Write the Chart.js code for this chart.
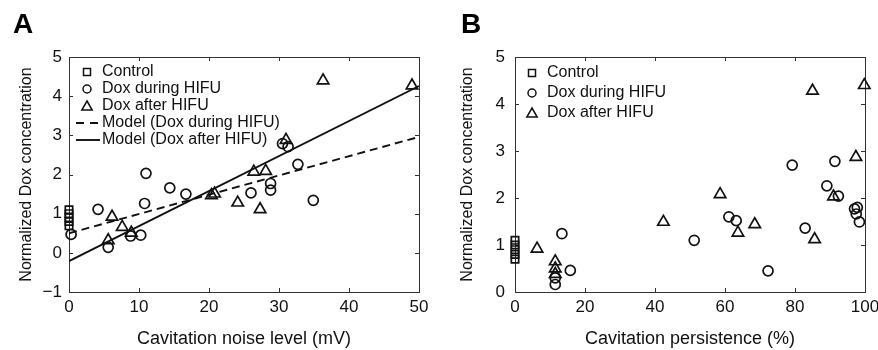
<!DOCTYPE html>
<html>
<head>
<meta charset="utf-8">
<script src="https://cdn.jsdelivr.net/npm/chart.js@4.4.1/dist/chart.umd.min.js"></script>
<style>
  html, body { margin: 0; padding: 0; background: #fff; }
  #wrap { position: relative; width: 878px; height: 350px; }
  canvas { position: absolute; top: 0; }
</style>
</head>
<body>
<div id="wrap">
  <canvas id="chartA" width="439" height="350" style="left:0"></canvas>
  <canvas id="chartB" width="439" height="350" style="left:439px"></canvas>
</div>
<script>
// ---- Panel A: cavitation noise level (mV) ----
const controlAX = [0, 0, 0, 0, 0];
const controlAY = [1.1, 1.0, 0.9, 0.8, 0.69];

const duringAX = [0.3, 4.15, 5.6, 8.8, 10.25, 10.8, 11.0, 14.4, 16.7, 26.0, 28.8, 28.8, 30.5, 31.3, 32.7, 34.9];
const duringAY = [0.47, 1.11, 0.14, 0.43, 0.45, 1.26, 2.03, 1.66, 1.5, 1.53, 1.77, 1.6, 2.79, 2.71, 2.26, 1.34];

const afterAX = [5.6, 6.15, 7.6, 8.9, 20.35, 20.8, 24.1, 26.4, 28.1, 27.3, 31.0, 36.3, 49.0];
const afterAY = [0.32, 0.92, 0.66, 0.51, 1.47, 1.51, 1.28, 2.07, 2.09, 1.11, 2.88, 4.4, 4.27];

const modelX = [0, 50];
const modelDuringY = [0.5, 2.96];
const modelAfterY = [-0.21, 4.26];

const aXTicks = [0, 10, 20, 30, 40, 50];
const aYTicks = [-1, 0, 1, 2, 3, 4, 5];

// ---- Panel B: cavitation persistence (%) ----
const controlBX = [0, 0, 0, 0, 0];
const controlBY = [1.1, 1.0, 0.9, 0.8, 0.7];

const duringBX = [11.5, 11.5, 13.4, 15.8, 51.2, 61.1, 63.2, 72.3, 79.2, 82.9, 89.1, 91.4, 92.4, 97.0, 97.8, 97.5, 98.4];
const duringBY = [0.3, 0.16, 1.24, 0.46, 1.1, 1.6, 1.52, 0.45, 2.7, 1.36, 2.26, 2.78, 2.04, 1.77, 1.8, 1.66, 1.49];

const afterBX = [6.3, 11.5, 11.5, 11.5, 42.4, 58.6, 63.7, 68.5, 85.0, 85.6, 91.0, 97.4, 99.8];
const afterBY = [0.92, 0.65, 0.5, 0.38, 1.49, 2.08, 1.26, 1.44, 4.28, 1.12, 2.03, 2.87, 4.4];

const bXTicks = [0, 20, 40, 60, 80, 100];
const bYTicks = [0, 1, 2, 3, 4, 5];

const FONT = '"Liberation Sans", Arial, Helvetica, sans-serif';
const INK = '#111';

const pts = (xs, ys) => xs.map((x, i) => ({ x: x, y: ys[i] }));
const fmt = v => String(v).replace('-', '\u2212');

function markerSet(label, xs, ys, style, radius) {
    return {
        label: label,
        data: pts(xs, ys),
        pointStyle: style,
        pointRadius: radius,
        pointBorderWidth: 1.7,
        pointBorderColor: INK,
        pointBackgroundColor: 'rgba(0,0,0,0)',
        borderColor: INK,
        showLine: false,
        clip: false
    };
}

function modelSet(label, xs, ys, dash) {
    return {
        label: label,
        data: pts(xs, ys),
        showLine: true,
        borderColor: INK,
        borderWidth: 1.9,
        borderDash: dash,
        pointRadius: 0,
        legendLine: true
    };
}

// box around the plot with inward ticks on all four sides
const framePlugin = {
    id: 'frame',
    beforeDatasetsDraw(chart) {
        const { ctx, chartArea: a, scales } = chart;
        const len = 4;
        ctx.save();
        ctx.strokeStyle = '#333';
        ctx.lineWidth = 1;
        ctx.strokeRect(a.left + 0.5, a.top + 0.5, a.right - a.left, a.bottom - a.top);
        ctx.beginPath();
        scales.x.ticks.forEach(t => {
            const px = Math.round(scales.x.getPixelForValue(t.value)) + 0.5;
            ctx.moveTo(px, a.bottom); ctx.lineTo(px, a.bottom - len);
            ctx.moveTo(px, a.top); ctx.lineTo(px, a.top + len);
        });
        scales.y.ticks.forEach(t => {
            const py = Math.round(scales.y.getPixelForValue(t.value)) + 0.5;
            ctx.moveTo(a.left, py); ctx.lineTo(a.left + len, py);
            ctx.moveTo(a.right, py); ctx.lineTo(a.right - len, py);
        });
        ctx.stroke();
        ctx.restore();
    }
};

// legend drawn inside the plot, one row per dataset
const insideLegend = {
    id: 'insideLegend',
    afterDraw(chart, args, o) {
        const ctx = chart.ctx;
        ctx.save();
        ctx.font = '16px ' + FONT;
        ctx.fillStyle = INK;
        ctx.strokeStyle = INK;
        ctx.textBaseline = 'middle';
        chart.data.datasets.forEach((ds, i) => {
            const y = o.y0 + i * o.step;
            ctx.beginPath();
            if (ds.legendLine) {
                ctx.lineWidth = 1.9;
                ctx.setLineDash(ds.borderDash && ds.borderDash.length ? [8, 6] : []);
                ctx.moveTo(o.lineX0, y);
                ctx.lineTo(o.lineX1, y);
            } else if (ds.pointStyle === 'rect') {
                ctx.lineWidth = 1.5;
                ctx.rect(o.markX - 3.5, y - 3.5, 7, 7);
            } else if (ds.pointStyle === 'circle') {
                ctx.lineWidth = 1.5;
                ctx.arc(o.markX, y, 4, 0, Math.PI * 2);
            } else {
                ctx.lineWidth = 1.5;
                ctx.moveTo(o.markX, y - 5);
                ctx.lineTo(o.markX + 5.2, y + 4);
                ctx.lineTo(o.markX - 5.2, y + 4);
                ctx.closePath();
            }
            ctx.stroke();
            ctx.setLineDash([]);
            ctx.fillText(ds.label, o.textX, y);
        });
        ctx.restore();
    }
};

const panelLetter = {
    id: 'panelLetter',
    afterDraw(chart, args, o) {
        const ctx = chart.ctx;
        ctx.save();
        ctx.font = 'bold 28px ' + FONT;
        ctx.fillStyle = '#000';
        ctx.textBaseline = 'alphabetic';
        ctx.fillText(o.text, o.x, o.y);
        ctx.restore();
    }
};

function makeChart(id, cfg) {
    return new Chart(document.getElementById(id), {
        type: 'scatter',
        data: { datasets: cfg.datasets },
        plugins: [framePlugin, insideLegend, panelLetter],
        options: {
            responsive: false,
            animation: false,
            events: [],
            layout: { padding: { left: 0, right: cfg.padRight, top: 57, bottom: 0 } },
            scales: {
                x: {
                    type: 'linear',
                    min: cfg.xTicks[0],
                    max: cfg.xTicks[cfg.xTicks.length - 1],
                    afterBuildTicks: s => { s.ticks = cfg.xTicks.map(v => ({ value: v })); },
                    afterFit: s => { s.height = 58; s.paddingLeft = 0; s.paddingRight = 0; },
                    grid: { display: false, drawTicks: false },
                    border: { display: false },
                    ticks: { color: INK, padding: 5, maxRotation: 0, font: { family: FONT, size: 17 }, callback: v => fmt(v) },
                    title: { display: true, text: cfg.xTitle, color: INK, font: { family: FONT, size: 18 }, padding: { top: 0, bottom: 0 } }
                },
                y: {
                    type: 'linear',
                    min: cfg.yTicks[0],
                    max: cfg.yTicks[cfg.yTicks.length - 1],
                    afterBuildTicks: s => { s.ticks = cfg.yTicks.map(v => ({ value: v })); },
                    afterFit: s => { s.width = cfg.yWidth; s.paddingTop = 0; s.paddingBottom = 0; },
                    grid: { display: false, drawTicks: false },
                    border: { display: false },
                    ticks: { color: INK, padding: cfg.yTickPad, font: { family: FONT, size: 17 }, callback: v => fmt(v) },
                    title: { display: true, text: 'Normalized Dox concentration', color: INK, font: { family: FONT, size: 16 }, padding: { top: cfg.yTitlePad, bottom: 0 } }
                }
            },
            plugins: {
                legend: { display: false },
                tooltip: { enabled: false },
                insideLegend: cfg.legend,
                panelLetter: cfg.letter
            }
        }
    });
}

makeChart('chartA', {
    datasets: [
        markerSet('Control', controlAX, controlAY, 'rect', 5.2),
        markerSet('Dox during HIFU', duringAX, duringAY, 'circle', 5),
        markerSet('Dox after HIFU', afterAX, afterAY, 'triangle', 6.6),
        modelSet('Model (Dox during HIFU)', modelX, modelDuringY, [8, 5]),
        modelSet('Model (Dox after HIFU)', modelX, modelAfterY, [])
    ],
    xTicks: aXTicks, yTicks: aYTicks,
    xTitle: 'Cavitation noise level (mV)',
    padRight: 20, yWidth: 69, yTickPad: 7, yTitlePad: 17.4,
    legend: { markX: 87, textX: 102, lineX0: 76, lineX1: 100, y0: 72, step: 17 },
    letter: { text: 'A', x: 13, y: 33 }
});

makeChart('chartB', {
    datasets: [
        markerSet('Control', controlBX, controlBY, 'rect', 5.2),
        markerSet('Dox during HIFU', duringBX, duringBY, 'circle', 5),
        markerSet('Dox after HIFU', afterBX, afterBY, 'triangle', 6.6)
    ],
    xTicks: bXTicks, yTicks: bYTicks,
    xTitle: 'Cavitation persistence (%)',
    padRight: 13, yWidth: 76, yTickPad: 10, yTitlePad: 19.4,
    legend: { markX: 93, textX: 108, lineX0: 80, lineX1: 104, y0: 73, step: 20 },
    letter: { text: 'B', x: 22, y: 33 }
});
</script>
</body>
</html>
